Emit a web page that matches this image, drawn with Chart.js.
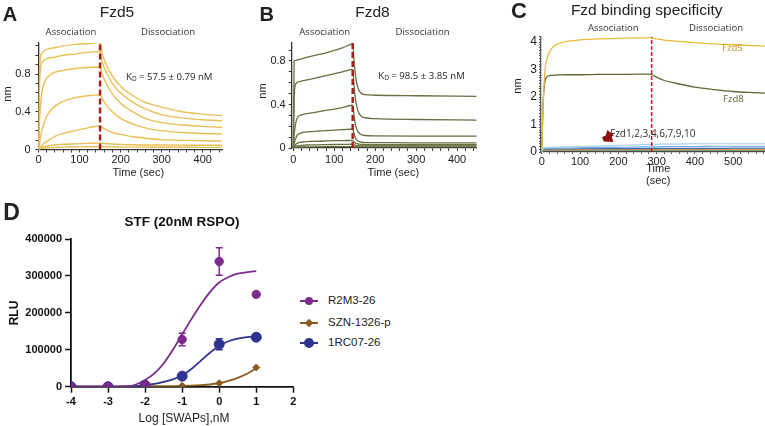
<!DOCTYPE html>
<html><head><meta charset="utf-8">
<script src="https://cdn.jsdelivr.net/npm/chart.js@4.4.0/dist/chart.umd.min.js"></script>
<style>
html,body{margin:0;padding:0;background:#fff;}
body{width:765px;height:426px;overflow:hidden;position:relative;font-family:'Liberation Sans',Arial,sans-serif;color:#222;}
canvas{position:absolute;}
.t{position:absolute;white-space:nowrap;line-height:1;transform:translate(-50%,-50%);}
.os{font-family:'Open Sans',sans-serif;}
</style></head><body>
<script>
// ===== Panel A: Fzd5 sensorgrams =====
const fzd5Time = [0,3,8,15,25,40,60,90,120,150,155,165,180,200,230,260,300,350,400,447];
const fzd5C1 = [0,0.90,1.02,1.05,1.07,1.08,1.10,1.115,1.125,1.135, 1.02,0.90,0.78,0.67,0.57,0.50,0.45,0.40,0.375,0.36];
const fzd5C2 = [0,0.75,0.92,0.95,0.97,0.98,1.00,1.015,1.03,1.04, 0.93,0.82,0.70,0.60,0.50,0.43,0.37,0.335,0.315,0.305];
const fzd5C3 = [0,0.35,0.60,0.72,0.78,0.82,0.84,0.86,0.87,0.875, 0.80,0.70,0.59,0.49,0.40,0.33,0.285,0.26,0.245,0.235];
const fzd5C4 = [0,0.08,0.20,0.30,0.39,0.46,0.51,0.55,0.57,0.58, 0.54,0.47,0.40,0.33,0.27,0.23,0.20,0.18,0.17,0.165];
const fzd5C5 = [0,0.02,0.04,0.07,0.10,0.14,0.17,0.20,0.23,0.25, 0.235,0.21,0.18,0.16,0.135,0.12,0.105,0.097,0.093,0.09];
const fzd5C6 = [0,0.01,0.02,0.03,0.04,0.05,0.055,0.06,0.065,0.07, 0.066,0.062,0.058,0.054,0.05,0.048,0.047,0.046,0.045,0.045];
const fzd5C7 = [0,0.005,0.01,0.015,0.02,0.022,0.025,0.027,0.029,0.03, 0.029,0.028,0.027,0.026,0.025,0.025,0.024,0.024,0.023,0.023];
const fzd5Switch = 150;
const fzd5XTicks = [0,100,200,300,400];
const fzd5XTickLabels = ['0','100','200','300','400'];
const fzd5YTicks = [0,0.4,0.8];
const fzd5YTickLabels = ['0','0.4','0.8'];

// ===== Panel B: Fzd8 sensorgrams =====
const fzd8Time = [0,2,5,10,20,40,80,120,145,148,152,158,165,175,200,300,448];
const fzd8C1 = [0,0.80,0.805,0.81,0.82,0.84,0.875,0.92,0.955, 0.82,0.66,0.55,0.505,0.49,0.485,0.48,0.475];
const fzd8C2 = [0,0.45,0.58,0.605,0.615,0.63,0.665,0.70,0.722, 0.59,0.44,0.34,0.295,0.278,0.27,0.262,0.256];
const fzd8C3 = [0,0.12,0.21,0.28,0.305,0.32,0.345,0.372,0.393, 0.31,0.21,0.15,0.125,0.115,0.112,0.11,0.11];
const fzd8C4 = [0,0.04,0.08,0.12,0.14,0.15,0.16,0.168,0.174, 0.135,0.09,0.065,0.055,0.05,0.049,0.048,0.048];
const fzd8C5 = [0,0.015,0.03,0.045,0.055,0.06,0.065,0.068,0.07, 0.06,0.045,0.037,0.033,0.031,0.03,0.03,0.03];
const fzd8C6 = [0,0.01,0.015,0.02,0.025,0.028,0.031,0.033,0.035, 0.03,0.025,0.022,0.02,0.02,0.02,0.019,0.019];
const fzd8C7 = [0,0.005,0.007,0.009,0.01,0.011,0.012,0.012,0.013, 0.012,0.011,0.01,0.01,0.01,0.01,0.01,0.01];
const fzd8Switch = 145;
const fzd8XTicks = [0,100,200,300,400];
const fzd8XTickLabels = ['0','100','200','300','400'];
const fzd8YTicks = [0,0.4,0.8];
const fzd8YTickLabels = ['0','0.4','0.8'];

// ===== Panel C: Fzd binding specificity =====
const specTime = [0,3,8,15,25,40,70,100,150,200,250,285,290,300,320,350,400,450,500,550,583];
const specFzd5 = [0.05,1.5,2.9,3.45,3.75,3.92,4.03,4.08,4.11,4.13,4.15,4.15, 4.14,4.11,4.07,4.03,3.98,3.93,3.90,3.87,3.85];
const specFzd8 = [0.05,1.6,2.55,2.75,2.79,2.8,2.81,2.81,2.82,2.82,2.83,2.83, 2.80,2.72,2.60,2.50,2.36,2.27,2.20,2.16,2.14];
const specFzd1 = [0.02,0.12,0.15,0.16,0.17,0.18,0.19,0.20,0.22,0.24,0.26,0.28, 0.28,0.28,0.29,0.29,0.30,0.30,0.30,0.30,0.30];
const specFzd2 = [0.02,0.10,0.12,0.13,0.13,0.14,0.14,0.15,0.16,0.17,0.18,0.19, 0.19,0.19,0.20,0.20,0.20,0.21,0.21,0.21,0.21];
const specFzd3 = [0.02,0.08,0.10,0.10,0.11,0.11,0.11,0.12,0.12,0.12,0.12,0.13, 0.13,0.13,0.13,0.13,0.13,0.13,0.14,0.14,0.14];
const specFzd4 = [0.02,0.07,0.08,0.09,0.09,0.09,0.09,0.09,0.10,0.10,0.10,0.10, 0.10,0.10,0.10,0.10,0.10,0.10,0.10,0.10,0.10];
const specFzd6 = [0.02,0.06,0.07,0.07,0.07,0.07,0.07,0.08,0.08,0.08,0.08,0.08, 0.08,0.08,0.08,0.08,0.08,0.08,0.08,0.08,0.08];
const specFzd7 = [0.02,0.05,0.06,0.06,0.06,0.06,0.06,0.06,0.06,0.06,0.06,0.06, 0.06,0.06,0.06,0.06,0.06,0.06,0.06,0.06,0.06];
const specFzd9 = [0.01,0.04,0.05,0.05,0.05,0.05,0.05,0.05,0.05,0.05,0.05,0.05, 0.05,0.05,0.05,0.05,0.05,0.05,0.05,0.05,0.05];
const specFzd10 = [0.02,0.06,0.07,0.08,0.08,0.08,0.08,0.08,0.08,0.09,0.09,0.09, 0.09,0.09,0.09,0.09,0.09,0.09,0.09,0.09,0.09];
const specSwitch = 287;
const specXTicks = [0,100,200,300,400,500];
const specXTickLabels = ['0','100','200','300','400','500'];
const specYTicks = [0,1,2,3,4];
const specYTickLabels = ['0','1','2','3','4'];

// ===== Panel D: STF dose response =====
const logDose = [-4,-3,-2,-1,0,1];
const r2m3Mean = [0,0,5000,128000,339000,250000];
const r2m3Err  = [0,0,0,17000,37000,0];
const szn1326Mean = [0,0,1000,2500,9500,52000];
const szn1326Err  = [0,0,0,0,0,0];
const rc0726Mean = [0,0,4000,28500,115000,134000];
const rc0726Err  = [0,0,0,0,15000,5000];
const fitLogDose = [-4,-3.5,-3,-2.5,-2.25,-2,-1.75,-1.5,-1.25,-1,-0.75,-0.5,-0.25,0,0.25,0.5,0.75,1];
const r2m3Fit    = [0,0,0,500,6000,18000,36000,63000,100000,142000,183000,222000,256000,282000,297000,306000,310000,313000];
const szn1326Fit = [500,500,600,700,800,1000,1200,1500,1800,2200,2800,4000,6000,10000,16000,24000,35000,50000];
const rc0726Fit  = [0,0,0,500,1500,4000,7500,13000,20000,31000,48000,70000,92000,111000,123000,130000,134000,136000];
const stfXTicks = [-4,-3,-2,-1,0,1,2];
const stfXTickLabels = ['-4','-3','-2','-1','0','1','2'];
const stfYTicks = [0,100000,200000,300000,400000];
const stfYTickLabels = ['0','100000','200000','300000','400000'];
const seriesNames = ['R2M3-26','SZN-1326-p','1RC07-26'];

// ===== helpers =====
Chart.defaults.font.family = "'Liberation Sans', Arial, sans-serif";
function pts(xs, ys){ return xs.map((x,i)=>({x:x, y:ys[i]})); }
function steps(a,b,s){ const r=[]; for(let v=a; v<=b+1e-9; v+=s) r.push(Math.round(v*1000)/1000); return r; }
function lab(ticks, labels){ return function(v){ for(let i=0;i<ticks.length;i++){ if(Math.abs(ticks[i]-v)<1e-6) return labels[i]; } return ''; }; }
function txt(html, x, y, css){
  const d=document.createElement('div'); d.className='t'; d.innerHTML=html;
  d.style.left=x+'px'; d.style.top=y+'px'; Object.assign(d.style, css||{});
  document.body.appendChild(d); return d;
}
function axis(opts){
  return {
    type:'linear', min:opts.min, max:opts.max,
    afterBuildTicks: s => { s.ticks = opts.tickVals.map(v=>({value:v})); },
    afterFit: opts.fit,
    ticks:{autoSkip:false, maxRotation:0, padding:opts.pad, color:opts.color||'#222',
      font:{size:opts.size||11, weight:opts.weight||'normal'}, callback: lab(opts.major, opts.labels)},
    grid:{display:true, drawOnChartArea:false, drawTicks:true, tickLength:opts.tl, color:opts.axisColor||'#333', tickWidth:opts.tw||1},
    border:{display:true, color:opts.axisColor||'#333', width:opts.bw||1.3}
  };
}
function panel(box, area, xo, yo, datasets, plugins){
  const c=document.createElement('canvas');
  c.width=box.w; c.height=box.h; c.style.left=box.x+'px'; c.style.top=box.y+'px';
  c.style.width=box.w+'px'; c.style.height=box.h+'px';
  document.body.appendChild(c);
  xo.fit = s => { s.height = box.y+box.h-area.bottom; };
  yo.fit = s => { s.width = area.left-box.x; };
  return new Chart(c, {
    type:'scatter', data:{datasets:datasets},
    options:{responsive:false, animation:false, devicePixelRatio:1,
      layout:{padding:{left:0, top:area.top-box.y, right:box.x+box.w-area.right, bottom:0}},
      plugins:{legend:{display:false}, tooltip:{enabled:false}},
      scales:{x:axis(xo), y:axis(yo)}},
    plugins: plugins||[]
  });
}
function curve(data, color, w){ return {data:data, showLine:true, pointRadius:0, borderColor:color, backgroundColor:color, borderWidth:w, cubicInterpolationMode:'monotone', fill:false}; }
function dashLine(x, y0, y1, color, w, dash){ return {data:[{x:x,y:y0},{x:x,y:y1}], showLine:true, pointRadius:0, borderColor:color, borderWidth:w, borderDash:dash, order:-1}; }

// ===== Panel A =====
const goldA = '#E9BF55';
const fzd5YMax = 1.13;
panel({x:0,y:0,w:255,h:185},{left:38.5,top:43,right:222,bottom:149.5},
  {min:0,max:447,tickVals:steps(0,440,20),major:fzd5XTicks,labels:fzd5XTickLabels,pad:1,tl:3},
  {min:0,max:fzd5YMax,tickVals:steps(0,1.1,0.1),major:fzd5YTicks,labels:fzd5YTickLabels,pad:5,tl:3},
  [fzd5C1,fzd5C2,fzd5C3,fzd5C4,fzd5C5,fzd5C6,fzd5C7].map(c=>curve(pts(fzd5Time,c),goldA,1.4))
    .concat([dashLine(fzd5Switch,0,fzd5YMax,'#A3201C',2.5,[6,3])]));

// ===== Panel B =====
const oliveB = '#63713F';
const fzd8YMax = 0.965;
panel({x:255,y:0,w:255,h:185},{left:291.7,top:43,right:476.7,bottom:148},
  {min:-4,max:448,tickVals:steps(0,440,20),major:fzd8XTicks,labels:fzd8XTickLabels,pad:2,tl:3},
  {min:0,max:fzd8YMax,tickVals:steps(0,0.9,0.1),major:fzd8YTicks,labels:fzd8YTickLabels,pad:3,tl:3},
  [fzd8C1,fzd8C2,fzd8C3,fzd8C4,fzd8C5,fzd8C6,fzd8C7].map(c=>curve(pts(fzd8Time,c),oliveB,1.3))
    .concat([dashLine(fzd8Switch,0,fzd8YMax,'#A3201C',2.5,[6,3])]));

// ===== Panel C =====
const specYMax = 4.2;
const lowColors = ['#A9CDEB','#6FA8DC','#3D6FB6','#E69138','#999999','#6AA84F','#222222','#C9A227'];
const lowSeries = [specFzd1,specFzd2,specFzd3,specFzd4,specFzd6,specFzd7,specFzd9,specFzd10];
panel({x:510,y:0,w:255,h:190},{left:541,top:36.5,right:765,bottom:152},
  {min:-2,max:583,tickVals:steps(0,580,20),major:specXTicks,labels:specXTickLabels,pad:1,tl:2,axisColor:'#555'},
  {min:0,max:specYMax,tickVals:steps(0,4.2,0.1),major:specYTicks,labels:specYTickLabels,pad:2,tl:2,axisColor:'#555',size:12},
  lowSeries.map((s,i)=>curve(pts(specTime,s),lowColors[i],1.2))
    .concat([curve(pts(specTime,specFzd5),'#E8B83A',1.3), curve(pts(specTime,specFzd8),'#5C6B35',1.3),
             dashLine(specSwitch,0,specYMax,'#B22222',1.5,[4,2])]));

// ===== Panel D =====
const purple='#7B2B8C', brown='#8C5B1E', navy='#2E3490';
const errorBars = {
  id:'errorBars',
  afterDatasetsDraw(chart){
    const ctx=chart.ctx, xs=chart.scales.x, ys=chart.scales.y;
    chart.data.datasets.forEach(ds=>{
      if(!ds.errors) return;
      ctx.save(); ctx.strokeStyle=ds.borderColor; ctx.lineWidth=1.5;
      ds.data.forEach((p,i)=>{
        const e=ds.errors[i]; if(!e) return;
        const px=xs.getPixelForValue(p.x), top=ys.getPixelForValue(p.y+e), bot=ys.getPixelForValue(p.y-e);
        ctx.beginPath(); ctx.moveTo(px,top); ctx.lineTo(px,bot);
        ctx.moveTo(px-3.5,top); ctx.lineTo(px+3.5,top); ctx.moveTo(px-3.5,bot); ctx.lineTo(px+3.5,bot); ctx.stroke();
      });
      ctx.restore();
    });
  }
};
function ptsSet(data, color, style, r, errs, order){ return {data:data, showLine:false, pointStyle:style, pointRadius:r, pointBackgroundColor:color, pointBorderColor:color, borderColor:color, pointBorderWidth:1, errors:errs, order:order}; }
const dFit1 = curve(pts(fitLogDose,r2m3Fit),purple,1.8); dFit1.order=3;
const dFit2 = curve(pts(fitLogDose,szn1326Fit),brown,1.8); dFit2.order=5;
const dFit3 = curve(pts(fitLogDose,rc0726Fit),navy,1.8); dFit3.order=4;
panel({x:0,y:200,w:300,h:226},{left:71,top:239,right:293.3,bottom:386.7},
  {min:-4,max:2,tickVals:stfXTicks,major:stfXTicks,labels:stfXTickLabels,pad:3,tl:6,tw:1.5,bw:1.8,axisColor:'#111',weight:'bold',color:'#111'},
  {min:0,max:400000,tickVals:stfYTicks,major:stfYTicks,labels:stfYTickLabels,pad:3,tl:6,tw:1.5,bw:1.8,axisColor:'#111',weight:'bold',color:'#111'},
  [dFit1,dFit2,dFit3,
   ptsSet(pts(logDose,r2m3Mean),purple,'circle',4.2,r2m3Err,0),
   ptsSet(pts(logDose,szn1326Mean),brown,'rectRot',3.5,szn1326Err,2),
   ptsSet(pts(logDose,rc0726Mean),navy,'circle',5,rc0726Err,1)],
  [errorBars]);

// ===== Text =====
const big = {fontWeight:'bold'};
txt('A',10,14,{fontSize:20,fontWeight:'bold',fontSize:'20px'});
txt('B',266.7,13.5,{fontWeight:'bold',fontSize:'20px'});
txt('C',519,10.5,{fontWeight:'bold',fontSize:'22px'});
txt('D',11.5,211.5,{fontWeight:'bold',fontSize:'23px'});
txt('Fzd5',117,12,{fontSize:'15.5px'});
txt('Fzd8',372.5,12,{fontSize:'15.5px'});
txt('Fzd binding specificity',646.7,9.5,{fontSize:'15.5px'});
[['Association',71,31.7],['Dissociation',168,31.7],['Association',324.7,31.7],['Dissociation',422.5,31.7],['Association',613.3,27.7],['Dissociation',716,27.7]]
  .forEach(a=>{ const d=txt(a[0],a[1],a[2],{fontSize:'9.6px',color:'#333'}); d.classList.add('os'); });
function kd(html,x,y){ const d=txt(html,x,y,{fontSize:'9.6px',color:'#222',transform:'translate(0,-50%)'}); d.classList.add('os'); }
kd('K<sub style="font-size:6.5px;vertical-align:-1px">D</sub> = 57.5 ± 0.79 nM',126,77);
kd('K<sub style="font-size:6.5px;vertical-align:-1px">D</sub> = 98.5 ± 3.85 nM',378.3,76);
txt('nm',7,94,{fontSize:'11px',transform:'translate(-50%,-50%) rotate(-90deg)'});
txt('nm',262,91,{fontSize:'11px',transform:'translate(-50%,-50%) rotate(-90deg)'});
txt('nm',517,86,{fontSize:'11px',transform:'translate(-50%,-50%) rotate(-90deg)'});
txt('Time (sec)',138.3,171.7,{fontSize:'11px'});
txt('Time (sec)',393.3,172,{fontSize:'11px'});
txt('Time',658.3,168,{fontSize:'11px'});
txt('(sec)',658.3,180,{fontSize:'11px'});
(function(){ const d=txt('Fzd5',722,48.3,{fontSize:'9.6px',color:'#C99A2E',transform:'translate(0,-50%)'}); d.classList.add('os');
  const e=txt('Fzd8',723,99.3,{fontSize:'9.6px',color:'#5E6B3A',transform:'translate(0,-50%)'}); e.classList.add('os');
  const f=txt('Fzd1,2,3,4,6,7,9,10',610,132.7,{fontSize:'10px',color:'#333',transform:'translate(0,-50%)'}); f.classList.add('os');
  const m=document.createElement('div'); Object.assign(m.style,{position:'absolute',left:'602px',top:'130px',width:'12px',height:'12px',background:'#8E1212',clipPath:'polygon(45% 0%, 100% 45%, 80% 55%, 95% 100%, 15% 95%, 0% 60%, 30% 45%)'}); document.body.appendChild(m);
})();
txt('STF (20nM RSPO)',182,221.7,{fontSize:'13.5px',fontWeight:'bold',color:'#111'});
txt('RLU',14,313,{fontSize:'12px',fontWeight:'bold',color:'#111',transform:'translate(-50%,-50%) rotate(-90deg)'});
txt('Log [SWAPs],nM',184,418,{fontSize:'12px',color:'#222'});
// legend
const legColors=[purple,brown,navy], legY=[301,322.7,343];
seriesNames.forEach((n,i)=>{
  const ln=document.createElement('div'); Object.assign(ln.style,{position:'absolute',left:'300px',top:(legY[i]-1)+'px',width:'18px',height:'2px',background:legColors[i]}); document.body.appendChild(ln);
  const mk=document.createElement('div');
  if(i===1){ Object.assign(mk.style,{position:'absolute',left:'306px',top:(legY[i]-3)+'px',width:'6px',height:'6px',background:legColors[i],transform:'rotate(45deg)'}); }
  else { const r=i===0?4:5; Object.assign(mk.style,{position:'absolute',left:(309-r)+'px',top:(legY[i]-r)+'px',width:(2*r)+'px',height:(2*r)+'px',borderRadius:'50%',background:legColors[i]}); }
  document.body.appendChild(mk);
  txt(n,328,legY[i],{fontSize:'11.5px',color:'#222',transform:'translate(0,-50%)'});
});
</script>
</body></html>
